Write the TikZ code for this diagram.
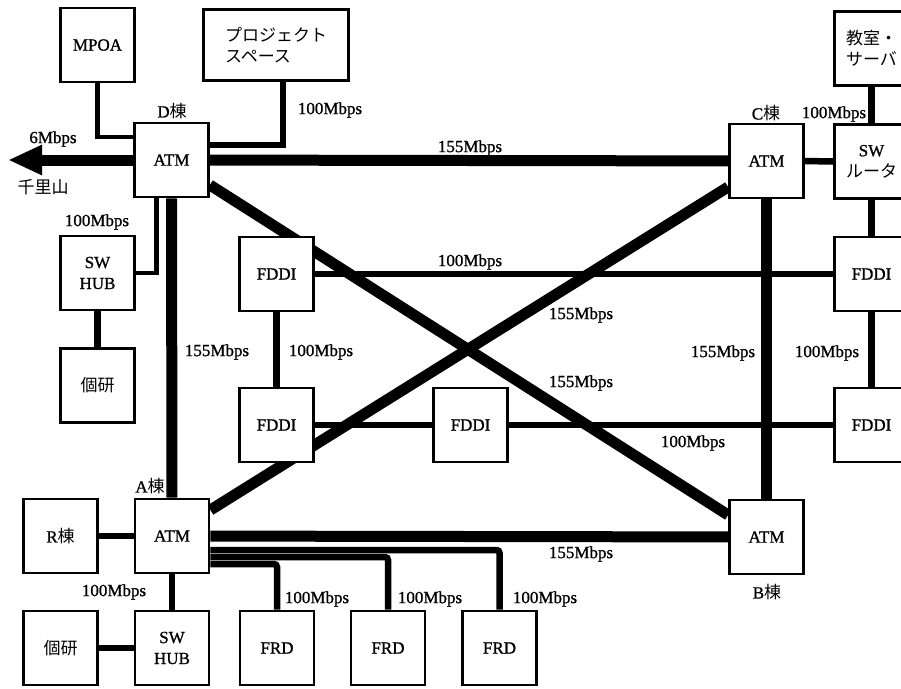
\documentclass[tikz,border=0pt]{standalone}
\usepackage{fontspec}
\setmainfont{Liberation Serif}[FakeBold=1]
\newfontfamily\jp{Noto Sans CJK JP}
\usetikzlibrary{arrows.meta,backgrounds}

\tikzset{
  box/.style={draw, line width=2.8pt, fill=white, minimum width=74pt, minimum height=74pt,
    inner sep=0pt, align=center, font=\fontsize{17}{21}\selectfont},
  lbl/.style={inner sep=0pt, font=\fontsize{17}{19}\selectfont},
  link155/.style={line width=11pt},
  link100/.style={line width=6.5pt},
  linkthin/.style={line width=4.5pt}
}

\begin{document}
\begin{tikzpicture}[x=1pt,y=-1pt]

\useasboundingbox (0,0) rectangle (901,688);

% D棟
\node[box] (mpoa) at (97.5,45) {MPOA};
\node[box, minimum width=145pt, minimum height=71pt, align=left] (proj) at (276,45) {\jp プロジェクト\\\jp スペース};
\node[box] (atmD) at (171.5,160) {ATM};
\node[box] (hubD) at (97.5,273) {SW\\HUB};
\node[box] (kokenD) at (97.5,385.5) {\jp 個研};
\coordinate (senri) at (8,160);

% C棟
\node[box] (atmC) at (766.5,161) {ATM};
\node[box] (router) at (871.5,161.5) {SW\\\jp ルータ};
\node[box, align=left] (kyoshitsu) at (871.5,48.5) {\jp 教室・\\\jp サーバ};

% FDDI
\node[box] (fddiTL) at (276.5,274) {FDDI};
\node[box] (fddiBL) at (276.5,425) {FDDI};
\node[box] (fddiM) at (470.5,425) {FDDI};
\node[box] (fddiTR) at (871.5,274) {FDDI};
\node[box] (fddiBR) at (871.5,425) {FDDI};

% A棟 / B棟
\node[box] (atmA) at (172,536) {ATM};
\node[box] (atmB) at (766.5,537) {ATM};
\node[box] (rto) at (60.5,536) {R\jp 棟};
\node[box] (hubA) at (172,648) {SW\\HUB};
\node[box] (kokenA) at (60.5,648) {\jp 個研};
\node[box] (frd1) at (277,648) {FRD};
\node[box] (frd2) at (388,648) {FRD};
\node[box] (frd3) at (499.5,648) {FRD};

% Collegamenti
\begin{scope}[on background layer]
\draw[link155, -{Triangle[length=34pt,width=28pt]}] (atmD.west) -- (senri);
\draw[linkthin] (mpoa.south) |- ([yshift=23pt]atmD.west);
\draw[link100] ([xshift=7pt]proj.south) |- ([yshift=15pt]atmD.east);
\draw[linkthin] (hubD.east) -| ([xshift=-15pt]atmD.south);
\draw[link100] (hubD) -- (kokenD);

\draw[link155] (atmD) -- (atmC);
\draw[link155] (atmD) -- (atmA);
\draw[link155] (atmC) -- (atmB);
\draw[link155] (atmA) -- (atmB);
\draw[link155] ([yshift=-25pt]atmD.east) -- ([yshift=22pt]atmB.west);
\draw[link155] ([yshift=26pt]atmA.east) -- ([yshift=-26pt]atmC.west);

\draw[link100] (atmC) -- (router);
\draw[link100] (kyoshitsu) -- (router);
\draw[link100] (router) -- (fddiTR);
\draw[link100] (fddiTR) -- (fddiBR);

\draw[link100] (fddiTL) -- (fddiTR);
\draw[link100] (fddiTL) -- (fddiBL);
\draw[link100] (fddiBL) -- (fddiM);
\draw[link100] (fddiM) -- (fddiBR);

\draw[link100] (rto) -- (atmA);
\draw[link100] (atmA) -- (hubA);
\draw[link100] (kokenA) -- (hubA);
\draw[link100, rounded corners=3pt] ([yshift=-14pt]atmA.east) -| (frd3.north);
\draw[link100, rounded corners=3pt] ([yshift=-21pt]atmA.east) -| (frd2.north);
\draw[link100, rounded corners=3pt] ([yshift=-28pt]atmA.east) -| (frd1.north);
\end{scope}

% Etichette
\node[lbl] (tD) at (172,111) {D\jp 棟};
\node[lbl] (tC) at (766,113) {C\jp 棟};
\node[lbl] (tA) at (150,486) {A\jp 棟};
\node[lbl] (tB) at (767,592) {B\jp 棟};
\node[lbl] (tSenri) at (43,187) {\jp 千里山};
\node[lbl] (r6) at (53,139) {6Mbps};

\node[lbl] (rProj) at (330,110) {100Mbps};
\node[lbl] (rHubD) at (97,222) {100Mbps};
\node[lbl] (rDC) at (470,148) {155Mbps};
\node[lbl] (rRouter) at (834,114) {100Mbps};
\node[lbl] (rFddiT) at (470,262) {100Mbps};
\node[lbl] (rAC) at (581,315) {155Mbps};
\node[lbl] (rDB) at (581,383) {155Mbps};
\node[lbl] (rDA) at (217,352) {155Mbps};
\node[lbl] (rFddiL) at (321,352) {100Mbps};
\node[lbl] (rCB) at (723,353) {155Mbps};
\node[lbl] (rFddiR) at (827,353) {100Mbps};
\node[lbl] (rFddiB) at (693,443) {100Mbps};
\node[lbl] (rAB) at (581,554) {155Mbps};
\node[lbl] (rHubA) at (114,592) {100Mbps};
\node[lbl] (rFrd1) at (317,599) {100Mbps};
\node[lbl] (rFrd2) at (430,599) {100Mbps};
\node[lbl] (rFrd3) at (545,599) {100Mbps};

\end{tikzpicture}
\end{document}
